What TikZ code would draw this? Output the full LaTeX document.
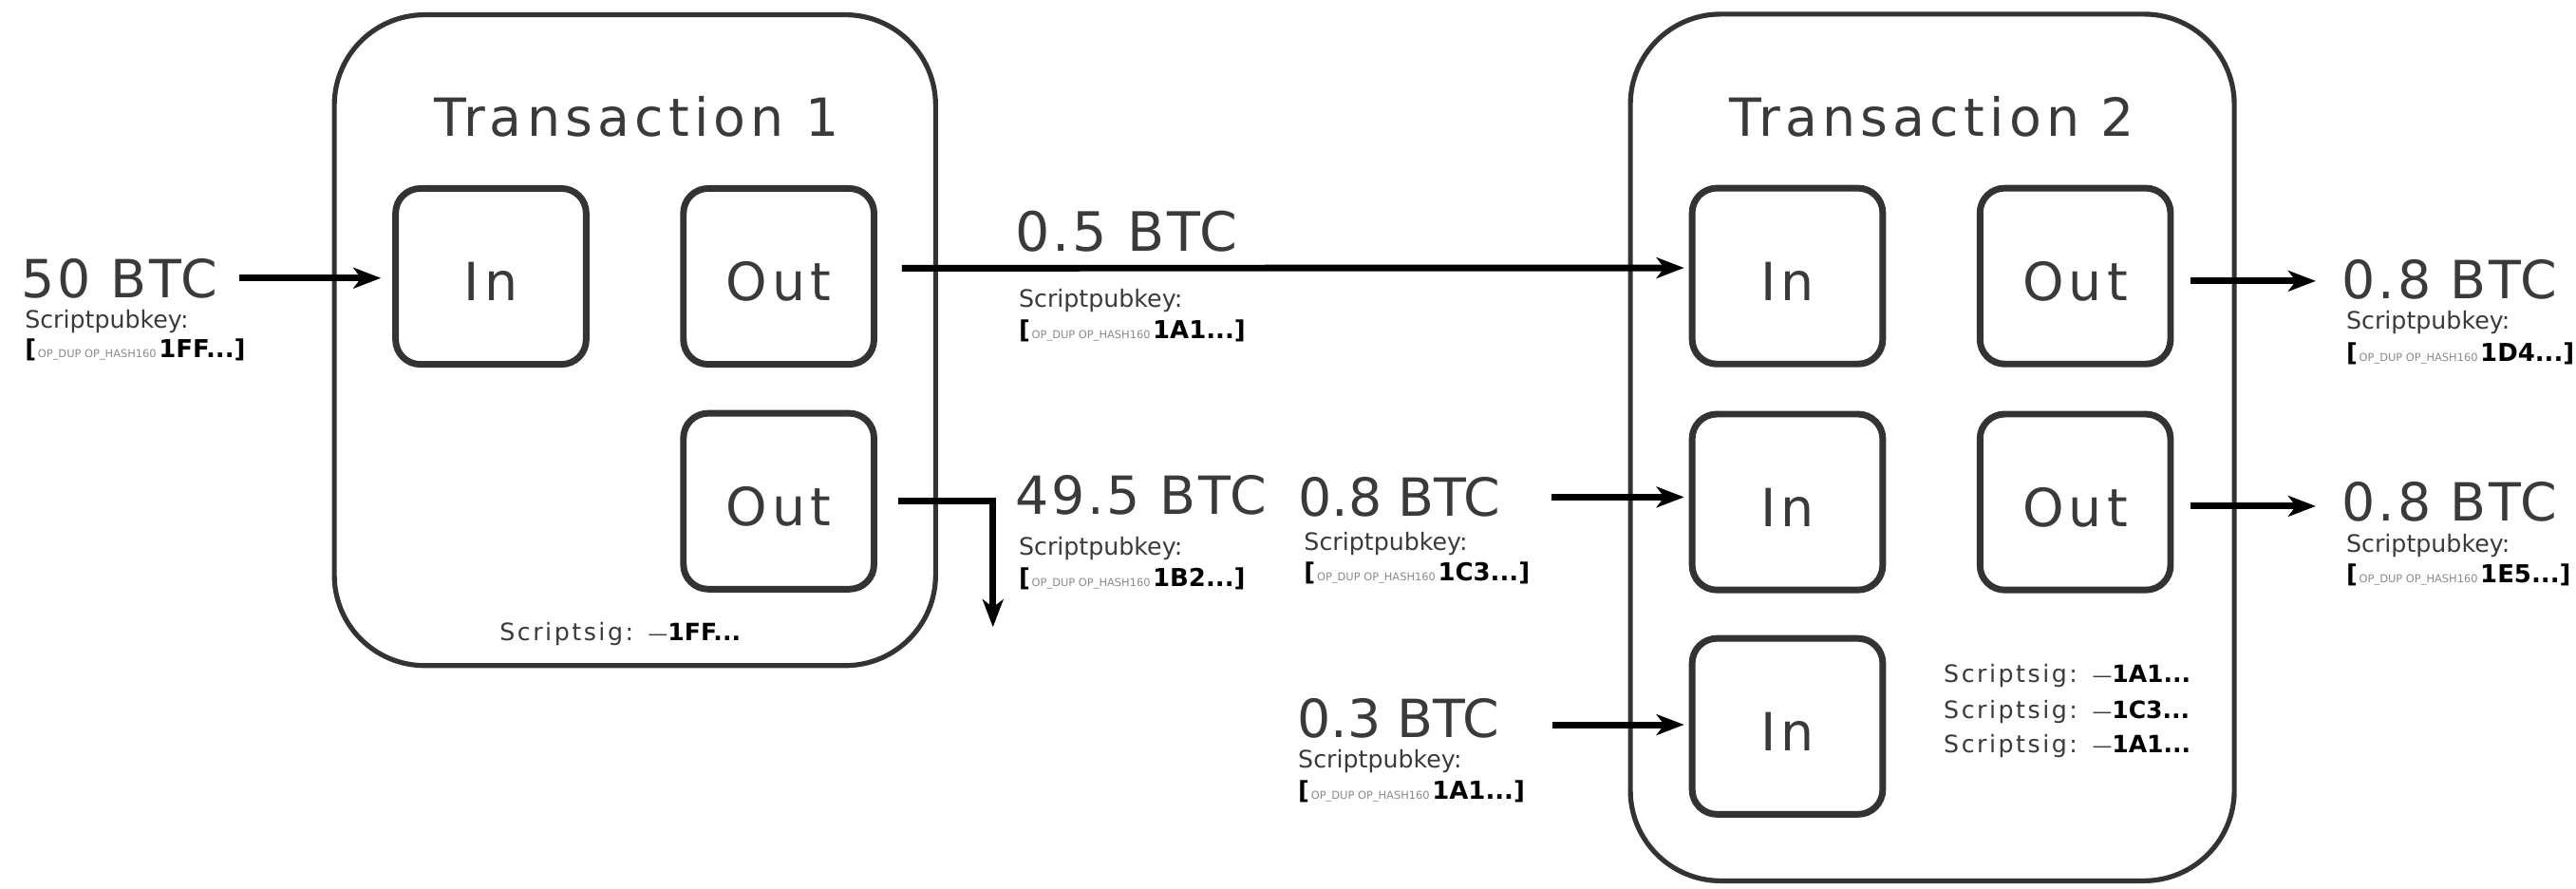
\documentclass[tikz,border=0pt]{standalone}
\usepackage{fontspec}
\setmainfont{DejaVu Sans}
\usetikzlibrary{arrows.meta,calc}
\definecolor{ink}{HTML}{333333}
\definecolor{txt}{HTML}{3A3A3A}
\definecolor{tinyc}{HTML}{8A8A8A}
\newcommand{\fsz}[1]{\fontsize{#1}{#1}\selectfont}
\newcommand{\spkey}[1]{{\color{black}\bfseries\fsz{15}[}\hspace{1pt}{\fsz{6.6}\color{tinyc}OP\_DUP OP\_HASH160}\hspace{1.5pt}{\color{black}\bfseries\fsz{15}#1...]}}
\newcommand{\ssig}[1]{{\addfontfeature{LetterSpace=10}Scriptsig:}\hspace{9pt}{\fsz{12}—}{\color{black}\bfseries\fsz{14.5}#1...}}
\begin{document}
\begin{tikzpicture}[x=1pt,y=-1pt,
  tx/.style={draw=ink, line width=3pt, rounded corners=55pt, inner sep=0pt},
  io/.style={draw=ink, line width=4pt, rounded corners=15pt, minimum width=116pt, minimum height=107pt, inner sep=0pt, text height=30pt, text depth=0pt, text=txt, font={\fsz{32}\addfontfeature{LetterSpace=9}}},
  ttl/.style={anchor=base, inner sep=0pt, text=txt, font={\fsz{32}\addfontfeature{LetterSpace=9.4}}},
  amt/.style={anchor=base west, inner sep=0pt, text=txt, font={\fsz{32}\addfontfeature{LetterSpace=5}}},
  amtn/.style={anchor=base west, inner sep=0pt, text=txt, font={\fsz{32}}},
  spk/.style={anchor=base west, inner sep=0pt, text=txt, font={\fsz{14.6}}},
  arr/.style={line width=4pt, draw=black, -{Stealth[length=17pt,width=13pt,inset=5pt,line width=0.5pt]}}
]
\useasboundingbox (0,0) rectangle (1568,540.4);
% transactions
\node[tx, minimum width=366pt, minimum height=396pt] (t1) at (386.5,207) {};
\node[tx, minimum width=367.6pt, minimum height=527.4pt] (t2) at (1176.2,272.3) {};
\node[ttl] (t1t) at (387.5,83) {Transaction 1};
\node[ttl] (t2t) at (1176,83) {Transaction 2};
% inputs / outputs
\node[io] (i11) at (298.8,168.2) {In};
\node[io] (o11) at (474,168.2) {Out};
\node[io] (o12) at (474,305) {Out};
\node[io] (i21) at (1088,168) {In};
\node[io] (o21) at (1263.2,168) {Out};
\node[io] (i22) at (1088,305.5) {In};
\node[io] (o22) at (1263.2,305.5) {Out};
\node[io] (i23) at (1088,442) {In};
% script sigs
\node[spk] (g1) at (304,390) {\ssig{1FF}};
\node[spk] (g2) at (1183,415.5) {\ssig{1A1}};
\node[spk] (g3) at (1183,437.5) {\ssig{1C3}};
\node[spk] (g4) at (1183,458) {\ssig{1A1}};
% amount labels
\node[amt] (a50) at (13,181) {50 BTC};
\node[spk] (s50) at (15,199.4) {Scriptpubkey:};
\node[spk] (k50) at (15,217.7) {\spkey{1FF}};
\node[amt, font={\fsz{33}\addfontfeature{LetterSpace=5}}] (a05) at (618,153) {0.5 BTC};
\node[spk] (s05) at (620,186.8) {Scriptpubkey:};
\node[spk] (k05) at (620,206) {\spkey{1A1}};
\node[amt] (a495) at (618,313) {49.5 BTC};
\node[spk] (s495) at (620,338) {Scriptpubkey:};
\node[spk] (k495) at (620,357) {\spkey{1B2}};
\node[amtn] (a08) at (790,314) {0.8 BTC};
\node[spk] (s08) at (793.6,335) {Scriptpubkey:};
\node[spk] (k08) at (793.6,353.5) {\spkey{1C3}};
\node[amtn] (a03) at (789.5,449) {0.3 BTC};
\node[spk] (s03) at (790,467) {Scriptpubkey:};
\node[spk] (k03) at (790,486.5) {\spkey{1A1}};
\node[amt] (r1) at (1425.5,181.5) {0.8 BTC};
\node[spk] (rs1) at (1428,200.5) {Scriptpubkey:};
\node[spk] (rk1) at (1428,219.7) {\spkey{1D4}};
\node[amt] (r2) at (1425.5,316.8) {0.8 BTC};
\node[spk] (rs2) at (1428,336) {Scriptpubkey:};
\node[spk] (rk2) at (1428,354.5) {\spkey{1E5}};
% connectors
\coordinate (d1) at (604.4,381.5);
\draw[arr, shorten <=13pt, shorten >=7pt] ([yshift=-1pt]a50.east |- i11.west) -- ([yshift=-1pt]i11.west);
\draw[arr, shorten <=15pt, shorten >=3pt] ([yshift=5pt]o11.east) -- ([yshift=5pt]i21.west);
\draw[arr, shorten <=13pt] (o12.east) -| (d1);
\draw[arr, shorten <=31pt, shorten >=3pt] ([yshift=3pt]a08.east |- i22.west) -- ([yshift=3pt]i22.west);
\draw[arr, shorten <=32pt, shorten >=3pt] ([yshift=1pt]a03.east |- i23.west) -- ([yshift=1pt]i23.west);
\draw[arr, shorten <=10pt, shorten >=16pt] ([yshift=-3pt]o21.east) -- ([yshift=-3pt]o21.east -| r1.west);
\draw[arr, shorten <=10pt, shorten >=16pt] ([yshift=-2.5pt]o22.east) -- ([yshift=-2.5pt]o22.east -| r2.west);
\end{tikzpicture}
\end{document}
